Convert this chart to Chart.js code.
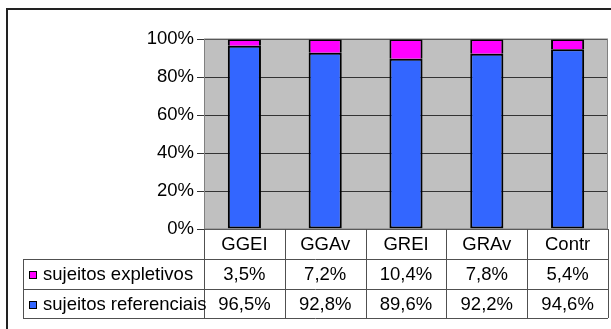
<!DOCTYPE html>
<html>
<head>
<meta charset="utf-8">
<script src="https://cdn.jsdelivr.net/npm/chart.js@4"></script>
<style>
  html, body { margin: 0; padding: 0; background: #fff; }
  #wrap { position: relative; width: 611px; height: 329px; }
</style>
</head>
<body>
<div id="wrap"><canvas id="chart" width="611" height="329"></canvas></div>
<script>
// Data
const categories = ["GGEI", "GGAv", "GREI", "GRAv", "Contr"];
const expletivos = [3.5, 7.2, 10.4, 7.8, 5.4];
const referenciais = [96.5, 92.8, 89.6, 92.2, 94.6];
const yTicks = [0, 20, 40, 60, 80, 100];

const FONT = '"Liberation Sans", Arial, sans-serif';
const BLUE = "#3366FF";
const MAGENTA = "#FF00FF";

// Format number with comma decimal
function fmt(v) {
  return v.toFixed(1).replace(".", ",") + "%";
}

// Plot background + frame
const backgroundPlugin = {
  id: "plotBackground",
  beforeDraw(chart) {
    const { ctx, chartArea } = chart;
    ctx.save();
    // outer frame (top and left edges visible)
    ctx.strokeStyle = "#222";
    ctx.lineWidth = 2;
    ctx.beginPath();
    ctx.moveTo(7, 329);
    ctx.lineTo(7, 9);
    ctx.lineTo(611, 9);
    ctx.stroke();
    ctx.fillStyle = "#C0C0C0";
    ctx.fillRect(chartArea.left, chartArea.top, chartArea.right - chartArea.left, chartArea.bottom - chartArea.top);
    ctx.restore();
  },
  afterDatasetsDraw(chart) {
    const { ctx, chartArea } = chart;
    ctx.save();
    ctx.strokeStyle = "#808080";
    ctx.lineWidth = 1;
    ctx.strokeRect(chartArea.left + 0.5, chartArea.top, chartArea.right - chartArea.left - 1, chartArea.bottom - chartArea.top);
    ctx.restore();
  }
};

// Data table under the plot
const dataTablePlugin = {
  id: "dataTable",
  afterDraw(chart) {
    const { ctx, chartArea } = chart;
    const x = chart.scales.x;
    const step = x.getPixelForValue(1) - x.getPixelForValue(0);
    const top = chartArea.bottom;
    const rowH = [30, 30, 29];
    const y1 = top + rowH[0];
    const y2 = y1 + rowH[1];
    const y3 = y2 + rowH[2];
    const tableLeft = 23;

    ctx.save();
    ctx.strokeStyle = "#505050";
    ctx.lineWidth = 1;
    ctx.beginPath();
    // horizontal lines
    [y1, y2, y3].forEach((y) => {
      ctx.moveTo(tableLeft, Math.round(y) + 0.5);
      ctx.lineTo(chartArea.right, Math.round(y) + 0.5);
    });
    // left edge of legend column
    ctx.moveTo(tableLeft + 0.5, y1);
    ctx.lineTo(tableLeft + 0.5, y3);
    // column boundaries
    for (let i = 0; i <= categories.length; i++) {
      const bx = Math.round(x.getPixelForValue(i) - step / 2) + 0.5;
      ctx.moveTo(bx, top);
      ctx.lineTo(bx, y3);
    }
    ctx.stroke();

    ctx.fillStyle = "#000";
    ctx.font = "18.5px " + FONT;
    ctx.textAlign = "center";
    ctx.textBaseline = "middle";
    categories.forEach((c, i) => {
      const cx = x.getPixelForValue(i);
      ctx.fillText(c, cx, (top + y1) / 2 + 1);
      ctx.fillText(fmt(expletivos[i]), cx, (y1 + y2) / 2 + 1);
      ctx.fillText(fmt(referenciais[i]), cx, (y2 + y3) / 2 + 1);
    });

    // legend keys
    const rows = [
      { label: "sujeitos expletivos", color: MAGENTA, y: (y1 + y2) / 2 },
      { label: "sujeitos referenciais", color: BLUE, y: (y2 + y3) / 2 }
    ];
    ctx.textAlign = "left";
    rows.forEach((r) => {
      ctx.fillStyle = r.color;
      ctx.fillRect(29, Math.round(r.y) - 3, 8, 8);
      ctx.strokeStyle = "#000";
      ctx.strokeRect(29.5, Math.round(r.y) - 2.5, 7, 7);
      ctx.fillStyle = "#000";
      ctx.fillText(r.label, 43, r.y + 1);
    });
    ctx.restore();
  }
};

const chart = new Chart(document.getElementById("chart"), {
  type: "bar",
  data: {
    labels: categories,
    datasets: [
      {
        label: "sujeitos referenciais",
        data: referenciais,
        backgroundColor: BLUE,
        borderColor: "#000",
        borderWidth: 2,
        borderSkipped: false,
        categoryPercentage: 1,
        barPercentage: 0.41
      },
      {
        label: "sujeitos expletivos",
        data: expletivos,
        backgroundColor: MAGENTA,
        borderColor: "#000",
        borderWidth: 2,
        borderSkipped: "start",
        categoryPercentage: 1,
        barPercentage: 0.41
      }
    ]
  },
  options: {
    responsive: false,
    animation: false,
    devicePixelRatio: 1,
    layout: { padding: { left: 0, top: 39, right: 3, bottom: 100 } },
    plugins: {
      legend: { display: false },
      tooltip: { enabled: false }
    },
    scales: {
      x: {
        stacked: true,
        display: false
      },
      y: {
        stacked: true,
        min: 0,
        max: 100,
        afterBuildTicks(scale) {
          scale.ticks = yTicks.map((v) => ({ value: v }));
        },
        afterFit(scale) {
          scale.width = 204;
        },
        border: { display: false },
        grid: {
          color: "#333",
          lineWidth: 1,
          tickLength: 7,
          drawTicks: true
        },
        ticks: {
          padding: 3,
          color: "#000",
          font: { family: FONT, size: 18.5 },
          callback: (v) => v + "%"
        }
      }
    }
  },
  plugins: [backgroundPlugin, dataTablePlugin]
});
</script>
</body>
</html>
